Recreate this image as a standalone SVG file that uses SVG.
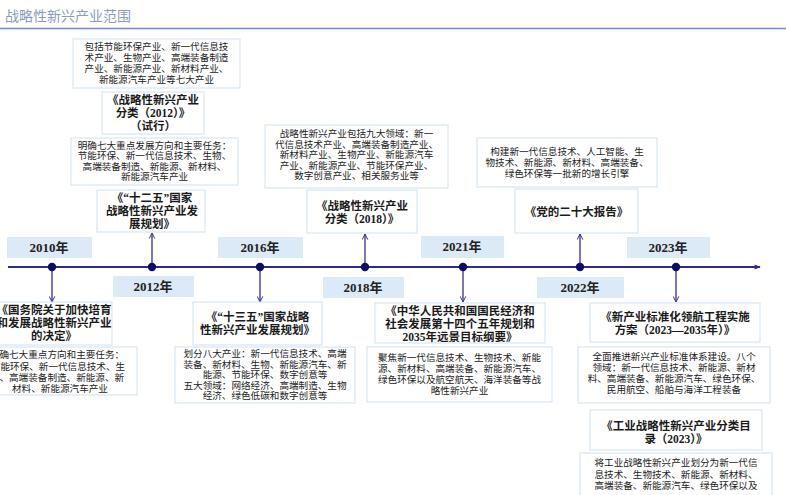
<svg xmlns="http://www.w3.org/2000/svg" width="786" height="495" viewBox="0 0 786 495">
<style>
.box{fill:#fff;stroke:#cfe0f2;stroke-width:1}
.yr{fill:#dce9f6}
.d{font-family:"Liberation Serif","Noto Sans CJK SC",serif;font-size:9.6px;fill:#222;text-anchor:middle}
.t{font-family:"Liberation Serif","Noto Sans CJK SC",serif;font-size:11.5px;font-weight:bold;fill:#1a1a1a;text-anchor:middle}
.y{font-family:"Liberation Serif","Noto Sans CJK SC",serif;font-size:13px;font-weight:bold;fill:#222;text-anchor:middle}
.ar{stroke:#3b2d91;stroke-width:1.3;fill:none}
.dot{fill:#0d0d66}
</style>
<defs>
<marker id="ah" viewBox="0 0 10 10" refX="9" refY="5" markerWidth="7" markerHeight="7" orient="auto" markerUnits="userSpaceOnUse">
<path d="M1,1 L9,5 L1,9" fill="none" stroke="#3b2d91" stroke-width="1.4"/>
</marker>
<marker id="tl" viewBox="0 0 10 10" refX="9" refY="5" markerWidth="8" markerHeight="6" orient="auto" markerUnits="userSpaceOnUse">
<path d="M0,1 L10,5 L0,9 Z" fill="#2f2a8f"/>
</marker>
</defs>
<text x="5" y="21" font-family="'Noto Sans CJK SC',sans-serif" font-size="14" fill="#8a9bc2">战略性新兴产业范围</text>
<line x1="0" y1="28.5" x2="786" y2="28.5" stroke="#6f8cc8" stroke-width="1.5"/>

<g id="connectors">
<line x1="8" y1="267" x2="760" y2="267" stroke="#2f2a8f" stroke-width="2" marker-end="url(#tl)"/>
<line class="ar" x1="152" y1="267" x2="152" y2="233" marker-end="url(#ah)"/>
<line class="ar" x1="365" y1="267" x2="365" y2="234" marker-end="url(#ah)"/>
<line class="ar" x1="580" y1="267" x2="580" y2="234" marker-end="url(#ah)"/>
<line class="ar" x1="52" y1="267" x2="52" y2="302" marker-end="url(#ah)"/>
<line class="ar" x1="260" y1="267" x2="260" y2="302" marker-end="url(#ah)"/>
<line class="ar" x1="463" y1="267" x2="463" y2="302" marker-end="url(#ah)"/>
<line class="ar" x1="676" y1="267" x2="676" y2="302" marker-end="url(#ah)"/>
<circle class="dot" cx="52" cy="267" r="4.2"/>
<circle class="dot" cx="152" cy="267" r="4.2"/>
<circle class="dot" cx="260" cy="267" r="4.2"/>
<circle class="dot" cx="365" cy="267" r="4.2"/>
<circle class="dot" cx="463" cy="267" r="4.2"/>
<circle class="dot" cx="580" cy="267" r="4.2"/>
<circle class="dot" cx="676" cy="267" r="4.2"/>
</g>

<g id="y2010"><rect class="yr" x="7" y="237" width="85" height="21"/><text class="y" x="49" y="252">2010年</text></g>
<g id="y2012"><rect class="yr" x="113" y="276" width="81" height="21"/><text class="y" x="153" y="291">2012年</text></g>
<g id="y2016"><rect class="yr" x="218" y="237" width="85" height="21"/><text class="y" x="260" y="252">2016年</text></g>
<g id="y2018"><rect class="yr" x="323" y="277" width="81" height="21"/><text class="y" x="363" y="292">2018年</text></g>
<g id="y2021"><rect class="yr" x="421" y="236" width="83" height="22"/><text class="y" x="462" y="251">2021年</text></g>
<g id="y2022"><rect class="yr" x="537" y="277" width="87" height="21"/><text class="y" x="580" y="292">2022年</text></g>
<g id="y2023"><rect class="yr" x="627" y="237" width="83" height="21"/><text class="y" x="668" y="252">2023年</text></g>

<g id="d2012a"><rect class="box" x="73" y="39" width="167" height="49"/>
<text class="d" x="156.5" y="50">包括节能环保产业、新一代信息技</text>
<text class="d" x="156.5" y="61">术产业、生物产业、高端装备制造</text>
<text class="d" x="156.5" y="72">产业、新能源产业、新材料产业、</text>
<text class="d" x="156.5" y="83">新能源汽车产业等七大产业</text></g>
<g id="t2012a"><rect class="box" x="102" y="92" width="102" height="42"/>
<text class="t" x="153" y="104">《战略性新兴产业</text>
<text class="t" x="153" y="117">分类（2012）》</text>
<text class="t" x="153" y="130">（试行）</text></g>
<g id="d2012b"><rect class="box" x="71" y="138" width="167" height="47"/>
<text class="d" x="154.5" y="148.5">明确七大重点发展方向和主要任务：</text>
<text class="d" x="154.5" y="159">节能环保、新一代信息技术、生物、</text>
<text class="d" x="154.5" y="169.5">高端装备制造、新能源、新材料、</text>
<text class="d" x="154.5" y="180">新能源汽车产业</text></g>
<g id="t2012b"><rect class="box" x="97" y="190" width="108" height="42"/>
<text class="t" x="152" y="202">《“十二五”国家</text>
<text class="t" x="152" y="215">战略性新兴产业发</text>
<text class="t" x="152" y="228">展规划》</text></g>

<g id="d2018"><rect class="box" x="265" y="125" width="183" height="63"/>
<text class="d" x="356.5" y="137">战略性新兴产业包括九大领域：新一</text>
<text class="d" x="356.5" y="147.5">代信息技术产业、高端装备制造产业、</text>
<text class="d" x="356.5" y="158">新材料产业、生物产业、新能源汽车</text>
<text class="d" x="356.5" y="168.5">产业、新能源产业、节能环保产业、</text>
<text class="d" x="356.5" y="179">数字创意产业、相关服务业等</text></g>
<g id="t2018"><rect class="box" x="307" y="190" width="110" height="43"/>
<text class="t" x="362" y="210">《战略性新兴产业</text>
<text class="t" x="362" y="223">分类（2018）》</text></g>

<g id="d2022"><rect class="box" x="477" y="138" width="180" height="49"/>
<text class="d" x="567" y="155">构建新一代信息技术、人工智能、生</text>
<text class="d" x="567" y="166">物技术、新能源、新材料、高端装备、</text>
<text class="d" x="567" y="177">绿色环保等一批新的增长引擎</text></g>
<g id="t2022"><rect class="box" x="515" y="189" width="123" height="44"/>
<text class="t" x="576.5" y="216">《党的二十大报告》</text></g>

<g id="t2010"><rect class="box" x="-6" y="302" width="118" height="43"/>
<text class="t" x="54" y="314">《国务院关于加快培育</text>
<text class="t" x="54" y="327">和发展战略性新兴产业</text>
<text class="t" x="54" y="340">的决定》</text></g>
<g id="d2010"><rect class="box" x="-22" y="347" width="159" height="48"/>
<text class="d" x="57" y="358">明确七大重点方向和主要任务：</text>
<text class="d" x="58" y="369.5">节能环保、新一代信息技术、生</text>
<text class="d" x="57" y="381">物、高端装备制造、新能源、新</text>
<text class="d" x="60" y="392">材料、新能源汽车产业</text></g>

<g id="t2016"><rect class="box" x="193" y="302" width="129" height="43"/>
<text class="t" x="257.5" y="321">《“十三五”国家战略</text>
<text class="t" x="257.5" y="334">性新兴产业发展规划》</text></g>
<g id="d2016"><rect class="box" x="175" y="347" width="180" height="56"/>
<text class="d" x="265" y="357">划分八大产业：新一代信息技术、高端</text>
<text class="d" x="265" y="367.5">装备、新材料、生物、新能源汽车、新</text>
<text class="d" x="265" y="378">能源、节能环保、数字创意等</text>
<text class="d" x="265" y="388.5">五大领域：网络经济、高端制造、生物</text>
<text class="d" x="265" y="399">经济、绿色低碳和数字创意等</text></g>

<g id="t2021"><rect class="box" x="375" y="303" width="170" height="40"/>
<text class="t" x="460" y="315">《中华人民共和国国民经济和</text>
<text class="t" x="460" y="328">社会发展第十四个五年规划和</text>
<text class="t" x="460" y="341">2035年远景目标纲要》</text></g>
<g id="d2021"><rect class="box" x="367" y="347" width="185" height="55"/>
<text class="d" x="459.5" y="361">聚焦新一代信息技术、生物技术、新能</text>
<text class="d" x="459.5" y="372">源、新材料、高端装备、新能源汽车、</text>
<text class="d" x="459.5" y="383">绿色环保以及航空航天、海洋装备等战</text>
<text class="d" x="459.5" y="394">略性新兴产业</text></g>

<g id="t2023a"><rect class="box" x="590" y="303" width="170" height="39"/>
<text class="t" x="675" y="321">《新产业标准化领航工程实施</text>
<text class="t" x="675" y="334">方案（2023—2035年）》</text></g>
<g id="d2023a"><rect class="box" x="578" y="347" width="192" height="56"/>
<text class="d" x="674" y="359.5">全面推进新兴产业标准体系建设。八个</text>
<text class="d" x="674" y="370.5">领域：新一代信息技术、新能源、新材</text>
<text class="d" x="674" y="381.5">料、高端装备、新能源汽车、绿色环保、</text>
<text class="d" x="674" y="392.5">民用航空、船舶与海洋工程装备</text></g>
<g id="t2023b"><rect class="box" x="590" y="410" width="172" height="40"/>
<text class="t" x="676" y="430">《工业战略性新兴产业分类目</text>
<text class="t" x="676" y="443">录（2023）》</text></g>
<g id="d2023b"><rect class="box" x="580" y="453" width="192" height="60"/>
<text class="d" x="676" y="466">将工业战略性新兴产业划分为新一代信</text>
<text class="d" x="676" y="477.5">息技术、生物技术、新能源、新材料、</text>
<text class="d" x="676" y="489">高端装备、新能源汽车、绿色环保以及</text></g>
</svg>
